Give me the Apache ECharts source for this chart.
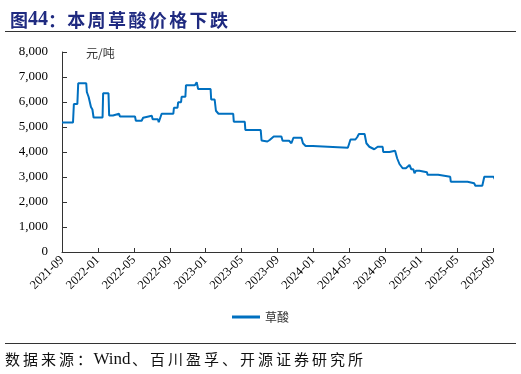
<!DOCTYPE html>
<html>
<head>
<meta charset="utf-8">
<script src="https://cdn.jsdelivr.net/npm/echarts@6/dist/echarts.min.js"></script>
<style>html,body{margin:0;padding:0;background:#fff}#c{width:521px;height:374px}</style>
</head>
<body>
<div id="c"></div>
<script>
// Data (dates and prices, 元/吨)
var dates = [
 '2021-09-01','2021-10-08','2021-10-11','2021-10-23','2021-10-26','2021-11-22','2021-11-24','2021-11-30','2021-12-08','2021-12-13','2021-12-17',
 '2022-01-17','2022-01-19','2022-02-06','2022-02-08','2022-02-20','2022-02-22','2022-03-12','2022-03-15','2022-05-05','2022-05-08','2022-05-28',
 '2022-06-02','2022-06-08','2022-07-01','2022-07-04','2022-07-22','2022-07-25','2022-08-04','2022-09-13','2022-09-15','2022-09-27','2022-09-29',
 '2022-10-09','2022-10-11','2022-10-24','2022-10-26','2022-11-25','2022-12-01','2022-12-06','2023-01-18','2023-01-20','2023-02-01','2023-02-05',
 '2023-02-10','2023-02-13','2023-04-03','2023-04-05','2023-05-12','2023-05-14','2023-07-05','2023-07-08','2023-07-28','2023-08-05','2023-08-19',
 '2023-09-14','2023-09-18','2023-10-10','2023-10-18','2023-10-25','2023-11-21','2023-11-26','2023-12-05','2023-12-30','2024-01-05','2024-04-26',
 '2024-05-05','2024-05-22','2024-05-28','2024-06-03','2024-06-22','2024-06-28','2024-07-08','2024-07-25','2024-08-06','2024-08-23','2024-08-25',
 '2024-09-15','2024-09-17','2024-10-04','2024-10-11','2024-10-19','2024-10-30','2024-11-10','2024-11-22','2024-11-28','2024-12-05','2024-12-09',
 '2024-12-14','2024-12-26','2025-01-01','2025-01-21','2025-01-23','2025-02-26','2025-02-28','2025-04-08','2025-04-10','2025-06-06','2025-06-08',
 '2025-06-28','2025-07-02','2025-07-26','2025-08-02','2025-09-03','2025-09-08'
];
var prices = [
 5180,5180,5920,5920,6750,6750,6400,6200,5800,5700,5380,
 5380,6350,6350,5460,5460,5530,5530,5420,5420,5250,5250,
 5370,5450,5450,5310,5310,5190,5530,5530,5770,5770,5990,
 5990,6210,6210,6670,6670,6790,6520,6520,6100,6100,5650,
 5650,5530,5530,5210,5210,4880,4880,4460,4420,4480,4620,
 4620,4450,4450,4350,4570,4570,4350,4240,4240,4170,4170,
 4500,4500,4590,4720,4720,4350,4210,4110,4210,4210,4000,
 4000,4050,4050,3750,3520,3350,3350,3480,3310,3310,3150,
 3250,3250,3190,3190,3090,3090,3010,3010,2810,2810,2750,
 2750,2650,2650,3010,3010,2890
];
var tickLabels = ['2021-09','2022-01','2022-05','2022-09','2023-01','2023-05','2023-09','2024-01','2024-05','2024-09','2025-01','2025-05','2025-09'];
var yTicks = [0,1000,2000,3000,4000,5000,6000,7000,8000];
var seriesName = '草酸';
var titleText = '本周草酸价格下跌';
var sourceA = '数据来源：';
var sourceB = '、百川盈孚、开源证券研究所';

function monthIndex(s){
  var p = s.split('-').map(Number);
  var dim = new Date(p[0], p[1], 0).getDate();
  return (p[0]-2021)*12 + (p[1]-9) + (p[2]-1)/dim;
}
function spaced(str, st){
  return str.split('').map(function(c){ return '{'+st+'|'+c+'}'; }).join('');
}
var seriesData = dates.map(function(d,i){ return [monthIndex(d), prices[i]]; });

var chart = echarts.init(document.getElementById('c'), null, {renderer:'canvas'});
var serif = 'Liberation Serif';
var cjk = 'Noto Sans CJK SC';
chart.setOption({
  animation:false,
  backgroundColor:'#fff',
  title:{
    text:'{a|图}{b|44}{a|：}' + spaced(titleText,'c'), left:5, top:5,
    textStyle:{
      rich:{
        a:{color:'#1f2a80', fontSize:18, fontWeight:'bold', fontFamily:cjk},
        b:{color:'#1f2a80', fontSize:20, fontWeight:'bold', fontFamily:serif},
        c:{color:'#1f2a80', fontSize:18, fontWeight:'bold', fontFamily:cjk, padding:[0,1.2,0,1.2]}
      }
    }
  },
  legend:{
    data:[seriesName], bottom:46, left:'center', itemWidth:28, itemHeight:3,
    icon:'rect', textStyle:{fontFamily:cjk, fontSize:12, color:'#333'}
  },
  grid:{left:62, right:28, top:52, bottom:122},
  xAxis:{
    type:'value', min:0, max:48, interval:4,
    axisLine:{lineStyle:{color:'#333', width:1}},
    axisTick:{inside:true, length:4, lineStyle:{color:'#333'}},
    splitLine:{show:false},
    axisLabel:{
      rotate:45, fontFamily:serif, fontSize:12.5, color:'#000', margin:6,
      formatter:function(v){ var k=Math.round(v/4); return tickLabels[k]||''; }
    }
  },
  yAxis:{
    type:'value', min:yTicks[0], max:yTicks[yTicks.length-1], interval:1000,
    axisLine:{show:true, lineStyle:{color:'#333', width:1}},
    axisTick:{show:true, inside:true, length:5, lineStyle:{color:'#333'}},
    splitLine:{show:false},
    axisLabel:{fontFamily:serif, fontSize:13, color:'#000', margin:14,
      formatter:function(v){ return v.toLocaleString('en-US'); }}
  },
  graphic:[
    {type:'line', shape:{x1:5,y1:31.5,x2:516,y2:31.5}, style:{stroke:'#333', lineWidth:1}},
    {type:'line', shape:{x1:5,y1:343.5,x2:516,y2:343.5}, style:{stroke:'#333', lineWidth:1}},
    {type:'text', left:86, top:47, style:{text:'元/吨', font:'12px "Noto Sans CJK SC"', fill:'#333'}},
    {type:'text', left:5, top:351, style:{
      text: spaced(sourceA,'a') + '{b|Wind}' + spaced(sourceB,'a'),
      rich:{
        a:{fontFamily:cjk, fontSize:15, fill:'#111', color:'#111', padding:[0,1.5,0,1.5]},
        b:{fontFamily:serif, fontSize:17, fill:'#111', color:'#111'}
      }
    }}
  ],
  series:[{
    name:seriesName, type:'line', data:seriesData, showSymbol:false, clip:false,
    lineStyle:{color:'#0070c0', width:2}, itemStyle:{color:'#0070c0'}
  }]
});
</script>
</body>
</html>
